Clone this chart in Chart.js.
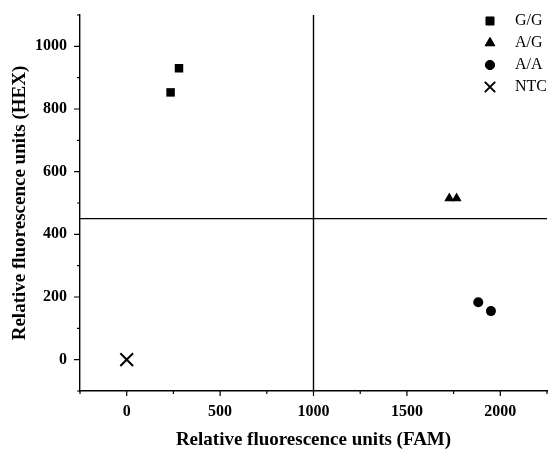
<!DOCTYPE html>
<html>
<head>
<meta charset="utf-8">
<script src="https://cdn.jsdelivr.net/npm/chart.js@4.4.0/dist/chart.umd.min.js"></script>
<style>
  body { margin: 0; background: #fff; }
  #wrap { width: 549px; height: 451px; }
</style>
</head>
<body>
<div id="wrap"><canvas id="myChart" width="549" height="451"></canvas></div>
<script>
// genotype groups and their (FAM, HEX) readings
const groupNames = ["G/G", "A/G", "A/A", "NTC"];
const groupShapes = ["rect", "triangle", "circle", "crossRot"];
const famGG = [280, 235];
const hexGG = [930, 853];
const famAG = [1727, 1766];
const hexAG = [515, 515];
const famAA = [1882, 1950];
const hexAA = [183, 155];
const famNTC = [0];
const hexNTC = [0];

// cut-off lines
const famCutoff = 1000;
const hexCutoff = 450;

// axis ranges and ticks
const xMin = -250, xMax = 2250, xStep = 250, xLabelEvery = 500;
const yMin = -100, yMax = 1100, yStep = 100, yLabelEvery = 200;

function toPoints(xs, ys) {
  var pts = [];
  for (let i = 0; i < xs.length; i++) {
    pts.push({ x: xs[i], y: ys[i] });
  }
  return pts;
}

const serif = "'Liberation Serif', 'Times New Roman', serif";
const radii = [6, 5.8, 5, 9];
const legendRadii = [5.7, 5.6, 4.6, 7.3];

// draws cutoff lines, minor/major ticks and the legend
const extras = {
  id: "extras",
  afterDraw(chart) {
    const ctx = chart.ctx;
    const area = chart.chartArea;
    const xs = chart.scales.x;
    const ys = chart.scales.y;
    ctx.save();
    ctx.strokeStyle = "#000";
    ctx.lineWidth = 1.4;

    // cutoff lines
    var px = xs.getPixelForValue(famCutoff);
    var py = ys.getPixelForValue(hexCutoff);
    ctx.beginPath();
    ctx.moveTo(px, area.top);
    ctx.lineTo(px, area.bottom);
    ctx.moveTo(area.left, py);
    ctx.lineTo(area.right, py);
    ctx.stroke();

    // ticks
    ctx.lineWidth = 1.2;
    ctx.beginPath();
    for (let v = xMin; v <= xMax; v += xStep) {
      var len = v % xLabelEvery == 0 ? 5 : 3;
      var x = xs.getPixelForValue(v);
      ctx.moveTo(x, area.bottom);
      ctx.lineTo(x, area.bottom + len);
    }
    for (let v = yMin; v <= yMax; v += yStep) {
      var len2 = v % yLabelEvery == 0 ? 6 : 3;
      var y = ys.getPixelForValue(v);
      ctx.moveTo(area.left, y);
      ctx.lineTo(area.left - len2, y);
    }
    ctx.stroke();

    // legend
    ctx.font = "16px " + serif;
    ctx.textBaseline = "middle";
    ctx.fillStyle = "#000";
    for (let i = 0; i < groupNames.length; i++) {
      var ly = 21 + i * 22;
      ctx.lineWidth = i == 3 ? 2 : 1;
      Chart.helpers.drawPoint(ctx, {
        pointStyle: groupShapes[i],
        radius: legendRadii[i],
        rotation: 0,
        borderWidth: i == 3 ? 2 : 1
      }, 490, ly);
      if (i != 3) ctx.fill();
      ctx.fillText(groupNames[i], 515, ly);
    }
    ctx.restore();
  }
};

const sets = [toPoints(famGG, hexGG), toPoints(famAG, hexAG), toPoints(famAA, hexAA), toPoints(famNTC, hexNTC)];
const datasets = [];
for (let i = 0; i < sets.length; i++) {
  datasets.push({
    label: groupNames[i],
    data: sets[i],
    pointStyle: groupShapes[i],
    pointRadius: radii[i],
    pointHoverRadius: radii[i],
    backgroundColor: "#000",
    borderColor: "#000",
    borderWidth: i == 3 ? 2 : 0
  });
}

function noPad(s) {
  s.paddingTop = 0;
  s.paddingBottom = 0;
  s.paddingLeft = 0;
  s.paddingRight = 0;
}

new Chart(document.getElementById("myChart"), {
  type: "scatter",
  data: { datasets: datasets },
  plugins: [extras],
  options: {
    responsive: false,
    animation: false,
    layout: { autoPadding: false, padding: { top: 15, right: 2, left: 0, bottom: 0 } },
    plugins: { legend: { display: false }, tooltip: { enabled: false } },
    scales: {
      x: {
        type: "linear",
        min: xMin,
        max: xMax,
        afterFit: (s) => { s.height = 60; noPad(s); },
        grid: { display: false, drawTicks: false, tickLength: 0 },
        border: { display: true, color: "#000", width: 1.4 },
        ticks: {
          stepSize: xStep,
          padding: 11,
          color: "#000",
          font: { family: serif, size: 16, weight: "bold" },
          callback: (v) => (v % xLabelEvery == 0 ? v : "")
        },
        title: {
          display: true,
          text: "Relative fluorescence units (FAM)",
          color: "#000",
          font: { family: serif, size: 19, weight: "bold" },
          padding: { top: 0, bottom: 0 }
        }
      },
      y: {
        type: "linear",
        min: yMin,
        max: yMax,
        afterFit: (s) => { s.width = 80; noPad(s); },
        grid: { display: false, drawTicks: false, tickLength: 0 },
        border: { display: true, color: "#000", width: 1.4 },
        ticks: {
          stepSize: yStep,
          padding: 13,
          color: "#000",
          font: { family: serif, size: 16, weight: "bold" },
          callback: (v) => (v % yLabelEvery == 0 ? v : "")
        },
        title: {
          display: true,
          text: "Relative fluorescence units (HEX)",
          color: "#000",
          font: { family: serif, size: 19, weight: "bold" },
          padding: { top: 9, bottom: 0 }
        }
      }
    }
  }
});
</script>
</body>
</html>
